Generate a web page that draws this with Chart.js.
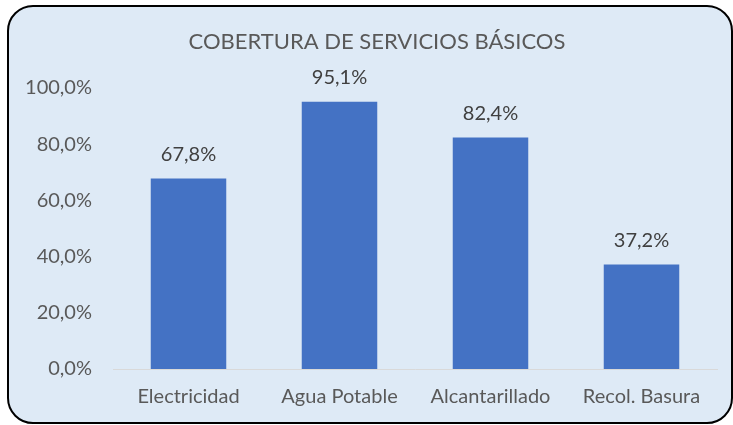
<!DOCTYPE html>
<html>
<head>
<meta charset="utf-8">
<script src="https://cdn.jsdelivr.net/npm/chart.js"></script>
<style>
html,body{margin:0;padding:0;background:#ffffff;}
#wrap{width:733px;height:425px;position:relative;}
</style>
</head>
<body>
<div id="wrap"><canvas id="c" width="733" height="425"></canvas></div>
<script>
const categories = ["Electricidad", "Agua Potable", "Alcantarillado", "Recol. Basura"];
const coverage = [67.8, 95.1, 82.4, 37.2];
const yTicks = [0, 20, 40, 60, 80, 100];
const titleText = "COBERTURA DE SERVICIOS BÁSICOS";

const FONT = "Lato, 'Open Sans', sans-serif";
const fmt = v => v.toFixed(1).replace('.', ',') + '%';

const bgPlugin = {
  id: 'bg',
  beforeDraw(chart) {
    const ctx = chart.ctx;
    ctx.save();
    ctx.beginPath();
    ctx.roundRect(8, 6, 724, 417, 25);
    ctx.fillStyle = '#DEEAF6';
    ctx.fill();
    ctx.lineWidth = 2;
    ctx.strokeStyle = '#000000';
    ctx.stroke();
    ctx.restore();
  },
  afterDraw(chart) {
    const ctx = chart.ctx;
    ctx.save();
    ctx.font = "22px " + FONT;
    ctx.fillStyle = '#595959';
    ctx.textAlign = 'center';
    ctx.textBaseline = 'middle';
    ctx.fillText(titleText, 377, 42);
    ctx.restore();
  }
};

const labelPlugin = {
  id: 'vals',
  afterDatasetsDraw(chart) {
    const ctx = chart.ctx;
    const meta = chart.getDatasetMeta(0);
    ctx.save();
    ctx.font = "20px " + FONT;
    ctx.fillStyle = '#404040';
    ctx.textAlign = 'center';
    ctx.textBaseline = 'middle';
    meta.data.forEach((bar, i) => {
      ctx.fillText(fmt(coverage[i]), bar.x, bar.y - 24);
    });
    ctx.restore();
  }
};

new Chart(document.getElementById('c'), {
  type: 'bar',
  data: {
    labels: categories,
    datasets: [{
      data: coverage,
      backgroundColor: '#4472C4',
      borderWidth: 0,
      categoryPercentage: 1.0,
      barPercentage: 0.5
    }]
  },
  options: {
    responsive: false,
    animation: false,
    devicePixelRatio: 1,
    layout: { padding: { left: 0, right: 16, top: 88, bottom: 0 } },
    plugins: {
      legend: { display: false },
      title: { display: false },
      tooltip: { enabled: false }
    },
    scales: {
      x: {
        grid: { display: false, drawTicks: false },
        border: { display: true, color: '#D9D9D9', width: 1 },
        ticks: { color: '#595959', font: { family: FONT, size: 20 }, padding: 16, maxRotation: 0 },
        afterFit(s) { s.height = 56; }
      },
      y: {
        min: 0, max: 100,
        afterBuildTicks(s) { s.ticks = yTicks.map(v => ({ value: v })); },
        grid: { display: false, drawTicks: false },
        border: { display: false },
        ticks: { color: '#595959', font: { family: FONT, size: 20 }, padding: 21, callback: v => fmt(v) },
        afterFit(s) { s.width = 113; }
      }
    }
  },
  plugins: [bgPlugin, labelPlugin]
});
</script>
</body>
</html>
